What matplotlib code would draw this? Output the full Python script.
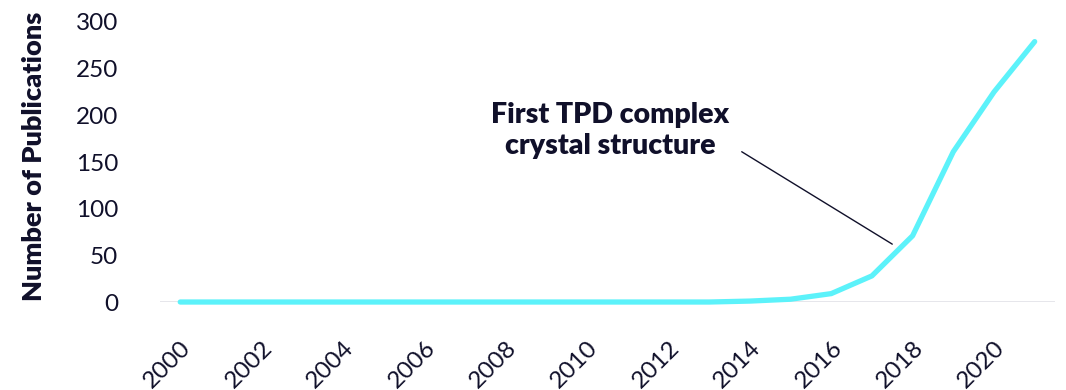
import numpy as np
import matplotlib.pyplot as plt

# Publications per year
years = list(range(2000, 2022))
publications = [0, 0, 0, 0, 0, 0, 0, 0, 0, 0, 0, 0, 0, 0, 1, 3, 9, 28, 71, 161, 225, 279]

y_ticks = [0, 50, 100, 150, 200, 250, 300]
x_ticks = list(range(2000, 2021, 2))

annotation_text = "First TPD complex\ncrystal structure"
annotation_xy = (2017.5, 62)
annotation_line_start = (2013.8, 161)
annotation_text_pos = (2013.5, 184)

line_color = "#5CF2FA"
text_color = "#10102A"

plt.rcParams["font.family"] = ["Lato", "DejaVu Sans"]


def plot_publications(figsize=(10.66, 3.9), dpi=100):
    fig = plt.figure(figsize=figsize, dpi=dpi)
    ax = fig.add_axes([0.150, 0.2256, 0.8397, 0.718])

    ax.plot(years, publications, color=line_color, linewidth=3.8,
            solid_capstyle="round", solid_joinstyle="round", clip_on=False, zorder=3)

    ax.axhline(0, color="#E2E2E8", linewidth=1.2, zorder=1)

    ax.set_xlim(1999.5, 2021.5)
    ax.set_ylim(0, 300)
    ax.set_yticks(y_ticks)
    ax.set_xticks(x_ticks)
    ax.set_xticklabels([str(x) for x in x_ticks], rotation=45, ha="right",
                       rotation_mode="anchor")
    ax.tick_params(axis="both", length=0, labelsize=17.5, colors=text_color)
    ax.tick_params(axis="x", pad=25)
    ax.tick_params(axis="y", pad=30)

    for s in ax.spines.values():
        s.set_visible(False)

    ax.set_ylabel("Number of Publications", fontsize=19.5, fontweight="heavy",
                  color=text_color)
    ax.yaxis.set_label_coords(-0.127, 0.52)

    # leader line
    ax.annotate("", xy=annotation_xy, xytext=annotation_line_start,
                arrowprops=dict(arrowstyle="-", color=text_color, lw=1.0,
                                shrinkA=0, shrinkB=0))
    ax.text(annotation_text_pos[0], annotation_text_pos[1], annotation_text,
            ha="right", va="center", multialignment="center", fontsize=20.5,
            fontweight="heavy", color=text_color, linespacing=1.25)

    return fig, ax


if __name__ == "__main__":
    fig, ax = plot_publications()
    fig.savefig("out.png", dpi=100)
    plt.close(fig)
